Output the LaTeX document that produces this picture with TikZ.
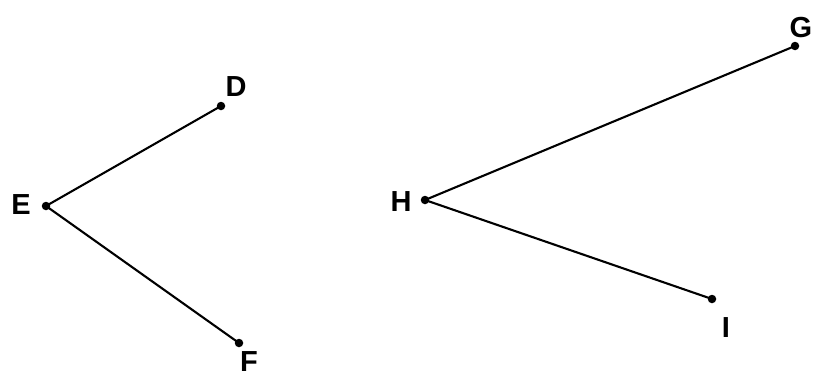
\documentclass[tikz,border=0pt]{standalone}
\usepackage{fontspec}
\setmainfont{Liberation Sans}
\begin{document}
\begin{tikzpicture}[x=1pt,y=-1pt,
  pt/.style={circle,fill=black,inner sep=0pt,minimum size=8.5pt},
  lbl/.style={font=\fontsize{29}{29}\selectfont\bfseries,inner sep=0pt},
  seg/.style={line width=2.1pt}]
\useasboundingbox[fill=white] (0,0) rectangle (814,378);
\node[pt] (E) at (46,206) {};
\node[pt] (D) at (221,106) {};
\node[pt] (F) at (239,343) {};
\node[pt] (H) at (425,200) {};
\node[pt] (G) at (795,46) {};
\node[pt] (I) at (712,299) {};
\draw[seg] (E.center) -- (D.center);
\draw[seg] (E.center) -- (F.center);
\draw[seg] (H.center) -- (G.center);
\draw[seg] (H.center) -- (I.center);
\node[lbl] (lE) at (21,205) {E};
\node[lbl] (lD) at (236,87) {D};
\node[lbl] (lF) at (249,362) {F};
\node[lbl] (lH) at (401,202) {H};
\node[lbl] (lG) at (801,28) {G};
\node[lbl] (lI) at (726,328) {I};
\end{tikzpicture}
\end{document}
